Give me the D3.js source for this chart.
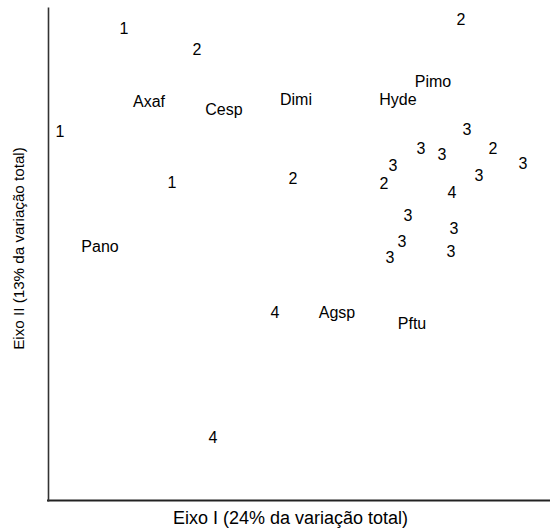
<!DOCTYPE html>
<html>
<head>
<meta charset="utf-8">
<script src="https://cdn.jsdelivr.net/npm/d3@7"></script>
<style>
  html, body { margin: 0; padding: 0; background: #fff; }
  svg text { font-family: "Liberation Sans", Arial, sans-serif; fill: #000; }
</style>
</head>
<body>
<svg id="chart" width="550" height="528"></svg>
<script>
// Group labels (sample groups 1-4), scores on Eixo I and Eixo II
const groupLabels = ["1","2","1","1","2","3","3","3","2","3","3","2","2","3","4","3","3","3","3","3","4","4"];
const groupX = [-1.74,-1.01,-2.38,-1.26,1.63,1.69,1.23,1.44,1.95,2.25,0.95,0.86,-0.05,1.81,1.54,1.10,1.56,1.04,0.92,1.53,-0.23,-0.85];
const groupY = [2.29,2.07,1.24,0.73,2.38,1.26,1.07,1.01,1.07,0.92,0.90,0.72,0.77,0.80,0.63,0.39,0.26,0.13,-0.03,0.03,-0.59,-1.85];

// Species labels
const speciesLabels = ["Axaf","Cesp","Pano","Dimi","Hyde","Pimo","Agsp","Pftu"];
const speciesX = [-1.49,-0.74,-1.98,-0.02,1.00,1.35,0.39,1.14];
const speciesY = [1.55,1.47,0.08,1.57,1.57,1.75,-0.59,-0.70];

const xTitle = "Eixo I (24% da variação total)";
const yTitle = "Eixo II (13% da variação total)";

const svg = d3.select("#chart");
const mLeft = 48, mRight = 548, mTop = 7, mBottom = 501;

const x = d3.scaleLinear().domain([-2.5, 2.5]).range([mLeft, mRight]);
const y = d3.scaleLinear().domain([-2.5, 2.5]).range([mBottom, mTop]);

// Axes (lines only, no ticks)
const xAxis = d3.axisBottom(x).tickValues([]).tickSizeOuter(0);
const yAxis = d3.axisLeft(y).tickValues([]).tickSizeOuter(0);

svg.append("g").attr("transform", `translate(0,${mBottom - 0.5})`).call(xAxis)
  .call(g => g.select(".domain").attr("stroke", "#222").attr("stroke-width", 2)
    .attr("d", `M${mLeft - 1},0H550`));
svg.append("g").attr("transform", `translate(${mLeft},0)`).call(yAxis)
  .call(g => g.select(".domain").attr("stroke", "#333").attr("stroke-width", 1.6));

const groups = groupLabels.map((l, i) => ({label: l, x: groupX[i], y: groupY[i]}));
const species = speciesLabels.map((l, i) => ({label: l, x: speciesX[i], y: speciesY[i]}));

svg.append("g").selectAll("text").data(groups.concat(species)).join("text")
  .attr("x", d => x(d.x))
  .attr("y", d => y(d.y))
  .attr("dy", "0.36em")
  .attr("text-anchor", "middle")
  .attr("font-size", 16)
  .text(d => d.label);

svg.append("text")
  .attr("x", 290.5).attr("y", 524)
  .attr("text-anchor", "middle")
  .attr("font-size", 18)
  .text(xTitle);

svg.append("text")
  .attr("transform", "translate(24,248.5) rotate(-90)")
  .attr("text-anchor", "middle")
  .attr("font-size", 15.2)
  .text(yTitle);
</script>
</body>
</html>
